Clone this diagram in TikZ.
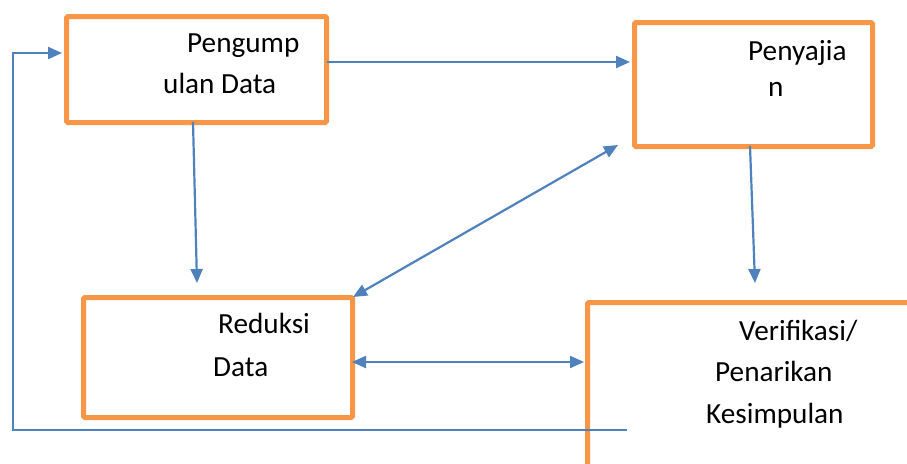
\documentclass[tikz,border=0pt]{standalone}
\usepackage{fontspec}
\setmainfont{Carlito}
\usetikzlibrary{arrows.meta}
\definecolor{boxorange}{HTML}{F79646}
\definecolor{lineblue}{HTML}{4F81BD}
\begin{document}
\begin{tikzpicture}[x=1pt,y=-1pt,
  boxnode/.style={draw=boxorange,line width=5pt,rounded corners=1.5pt,rectangle,inner sep=0pt,anchor=north west},
  label/.style={anchor=base west,inner sep=0pt,font=\fontsize{29.2}{30}\selectfont},
  conn/.style={draw=lineblue,line width=2.2pt},
  tip/.style={-{Triangle[length=14pt,width=12pt]}},
  tips/.style={{Triangle[length=14pt,width=12pt]}-{Triangle[length=14pt,width=12pt]}}]
\useasboundingbox (0,0) rectangle (907,463);
\clip (0,0) rectangle (907,463);
% boxes
\node[boxnode,minimum width=260pt,minimum height=106pt] (b1) at (64,14) {};
\node[boxnode,minimum width=238pt,minimum height=124pt] (b2) at (632,20) {};
\node[boxnode,minimum width=269pt,minimum height=120pt] (b3) at (81,295) {};
\node[boxnode,minimum width=400pt,minimum height=250pt] (b4) at (585,300) {};
% texts
\node[label] (t1a) at (187,52) {Pengump};
\node[label] (t1b) at (163,93) {ulan Data};
\node[label] (t2a) at (748,60) {Penyajia};
\node[label] (t2b) at (768,96) {n};
\node[label] (t3a) at (218,333) {Reduksi};
\node[label] (t3b) at (213,376) {Data};
\node[label] (t4a) at (739,340) {Verifikasi/};
\node[label] (t4b) at (715,381) {Penarikan};
\node[label] (t4c) at (706,423) {Kesimpulan};
% connector end points
\coordinate (c12a) at (327,62);
\coordinate (c12b) at (630,62);
\coordinate (c13a) at (193,122);
\coordinate (c13b) at (197,283);
\coordinate (c24a) at (750,146);
\coordinate (c24b) at (755,283);
\coordinate (c32a) at (353,297);
\coordinate (c32b) at (618,145);
\coordinate (c34a) at (352,362);
\coordinate (c34b) at (584,362);
\coordinate (fb0) at (627,430);
\coordinate (fb1) at (13,430);
\coordinate (fb2) at (13,53);
\coordinate (fb3) at (62,53);
% connectors
\draw[conn,tip] (c12a) -- (c12b);
\draw[conn,tip] (c13a) -- (c13b);
\draw[conn,tip] (c24a) -- (c24b);
\draw[conn,tips] (c32a) -- (c32b);
\draw[conn,tips] (c34a) -- (c34b);
\draw[conn,tip] (fb0) -- (fb1) -- (fb2) -- (fb3);
\end{tikzpicture}
\end{document}
